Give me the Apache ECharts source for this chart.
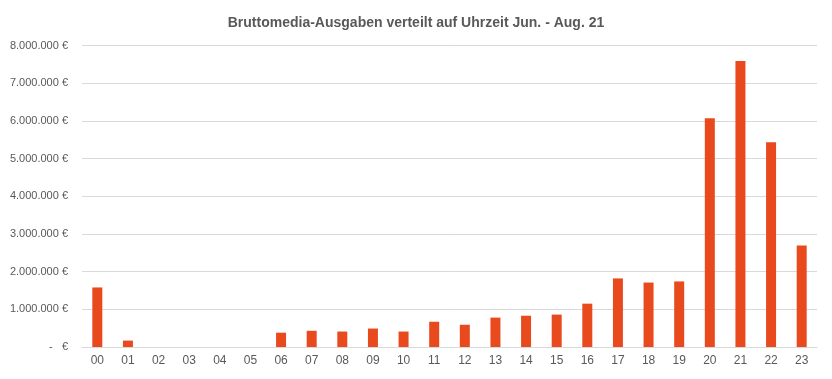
<!DOCTYPE html>
<html>
<head>
<meta charset="utf-8">
<script src="https://cdn.jsdelivr.net/npm/echarts@6/dist/echarts.min.js"></script>
<style>html,body{margin:0;padding:0;background:#fff;}#c{width:832px;height:379px;}</style>
</head>
<body>
<div id="c"></div>
<script>
const categories = ['00','01','02','03','04','05','06','07','08','09','10','11','12','13','14','15','16','17','18','19','20','21','22','23'];
const values = [1580000,170000,0,0,0,0,380000,430000,410000,490000,410000,670000,590000,780000,830000,860000,1150000,1820000,1710000,1740000,6070000,7590000,5430000,2690000];
const titleText = 'Bruttomedia-Ausgaben verteilt auf Uhrzeit Jun. - Aug. 21';

function fmt(v){
  if (v === 0) return '-   €';
  return String(Math.round(v)).replace(/\B(?=(\d{3})+(?!\d))/g, '.') + ' €';
}
const chart = echarts.init(document.getElementById('c'), null, {renderer:'canvas'});
chart.setOption({
  animation:false,
  title:{text:titleText,left:'center',top:11,textStyle:{fontFamily:'Liberation Sans, sans-serif',fontSize:14,fontWeight:'bold',color:'#595959'}},
  grid:{left:82,right:15,top:45.5,bottom:32,containLabel:false},
  xAxis:{type:'category',data:categories,axisLine:{lineStyle:{color:'#d9d9d9'}},axisTick:{show:false},
    axisLabel:{color:'#595959',fontSize:12,fontFamily:'Liberation Sans, sans-serif',margin:8}},
  yAxis:{type:'value',min:0,max:8000000,interval:1000000,axisLine:{show:false},axisTick:{show:false},
    splitLine:{lineStyle:{color:'#d9d9d9'}},
    axisLabel:{formatter:fmt,color:'#595959',fontSize:11,fontFamily:'Liberation Sans, sans-serif',margin:14}},
  series:[{type:'bar',data:values,barWidth:10,itemStyle:{color:'#E84A1E'}}]
});
</script>
</body>
</html>
